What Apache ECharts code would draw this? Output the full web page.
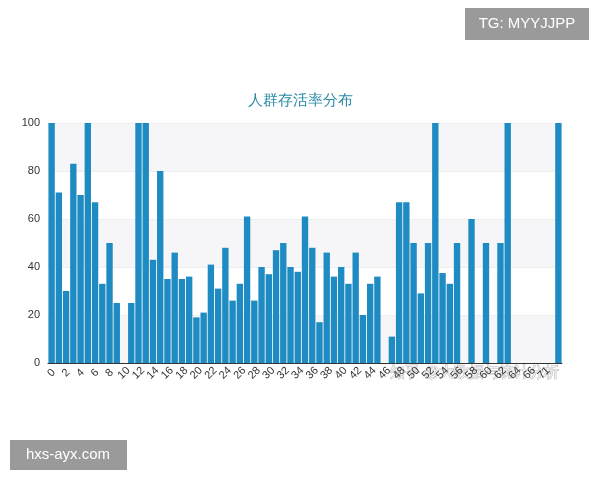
<!DOCTYPE html>
<html><head><meta charset="utf-8">
<script src="https://cdn.jsdelivr.net/npm/echarts@6/dist/echarts.min.js"></script>
<style>html,body{margin:0;padding:0;background:#fff}#c{width:600px;height:480px}</style>
</head><body><div id="c"></div>
<script>
var ages = [];
for (var a = 0; a <= 66; a++) ages.push(String(a));
ages = ages.concat(['70','71','74','80']);
var survival = [100,71,30,83,70,100,67,33,50,25,0,25,100,100,43,80,35,46,35,36,19,21,41,31,48,26,33,61,26,40,37,47,50,40,38,61,48,17,46,36,40,33,46,20,33,36,0,11,67,67,50,29,50,100,37.5,33,50,0,60,0,50,0,50,100,0,0,0,0,0,0,100];
var chart = echarts.init(document.getElementById('c'));
chart.setOption({
  animation:false,
  title:{text:'人群存活率分布',left:'center',top:88,textStyle:{color:'#2a8aa6',fontSize:15,fontWeight:'normal'}},
  grid:{left:48,right:38,top:123,bottom:117},
  xAxis:{type:'category',data:ages,axisLabel:{interval:1,rotate:45,fontSize:11,color:'#333',align:'center',verticalAlign:'middle',margin:10},axisTick:{interval:1},axisLine:{lineStyle:{color:'#333'}}},
  yAxis:{type:'value',min:0,max:100,interval:20,axisLabel:{color:'#333',fontSize:11},splitLine:{lineStyle:{color:'#eee'}},splitArea:{show:true,areaStyle:{color:['#f6f6f8','#fff']}},axisLine:{show:false},axisTick:{show:false}},
  series:[{type:'bar',data:survival,barCategoryGap:'12%',itemStyle:{color:'#1f8bc3'}}],
  graphic:[
    {type:'rect',shape:{x:465,y:8,width:124,height:32},style:{fill:'rgba(120,120,120,0.75)'}},
    {type:'text',x:527,y:24,style:{text:'TG: MYYJJPP',fill:'#fff',fontSize:15,align:'center',verticalAlign:'middle'}},
    {type:'rect',shape:{x:10,y:440,width:117,height:30},style:{fill:'rgba(120,120,120,0.75)'}},
    {type:'text',x:68,y:455,style:{text:'hxs-ayx.com',fill:'#fff',fontSize:15,align:'center',verticalAlign:'middle'}},
    {type:'text',x:390,y:373,style:{text:'知乎 @大数据与统计分析',fill:'rgba(255,255,255,0.85)',stroke:'rgba(150,150,150,0.7)',lineWidth:1,fontSize:15,verticalAlign:'middle'}}
  ]
});
</script></body></html>
